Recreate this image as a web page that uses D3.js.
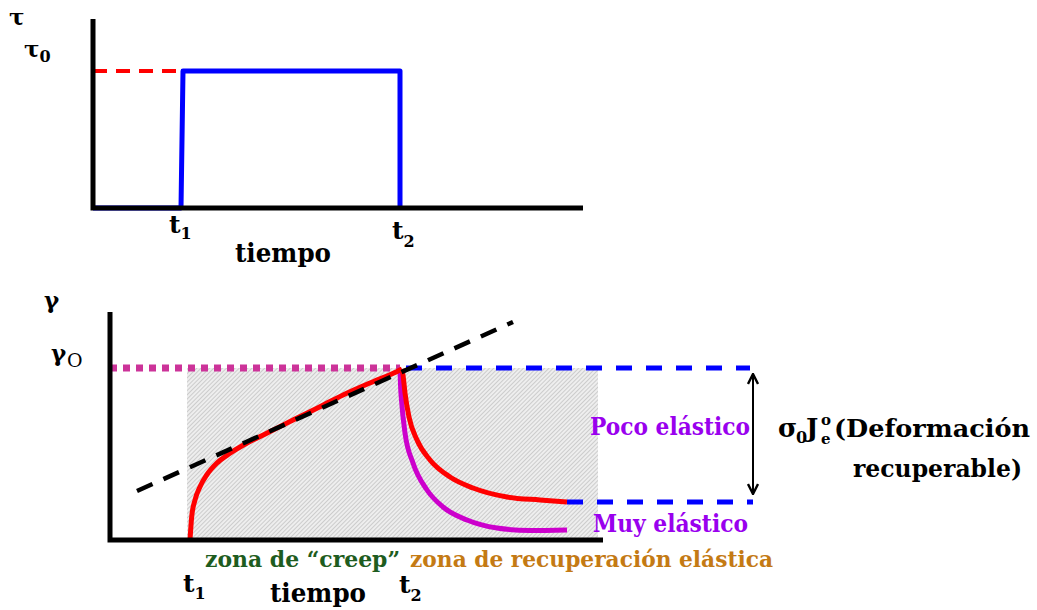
<!DOCTYPE html>
<html><head><meta charset="utf-8">
<script src="https://cdn.jsdelivr.net/npm/d3@7"></script>
<style>
html,body{margin:0;padding:0;background:#fff;}
svg text{font-family:"DejaVu Serif",serif;font-weight:bold;}
</style></head>
<body><svg id="c" width="1037" height="610"></svg>
<script>
// ---- Top chart data (stress τ vs time) ----
const stepTime   = [0, 8.8, 9.0, 30.7, 30.7];
const stepStress = [0, 0, 13.7, 13.7, 0];
const tau0 = 13.7;
const topT1 = 8.9, topT2 = 30.7;

// ---- Bottom chart data (strain γ vs time) ----
const creepTime   = [8.0, 8.17, 8.5, 9.0, 9.67, 10.67, 12.0, 13.67, 15.67, 18.3, 21.0, 23.67, 26.3, 28.67, 29.2];
const creepStrain = [0, 2.33, 4.0, 5.33, 6.5, 7.67, 8.67, 9.67, 10.67, 12.0, 13.33, 14.67, 15.83, 16.83, 17.1];
const pocoTime    = [29.2, 29.3, 29.5, 29.9, 30.7, 32.0, 34.0, 36.3, 39.7, 43.0, 45.7];
const pocoStrain  = [17.1, 16.5, 14.7, 12.3, 10.0, 8.0, 6.3, 5.2, 4.3, 4.0, 3.8];
const muyTime     = [29.0, 29.05, 29.15, 29.5, 30.3, 31.7, 33.3, 35.7, 38.7, 42.0, 45.7];
const muyStrain   = [17.1, 15.5, 14.0, 10.7, 7.7, 5.0, 3.3, 2.0, 1.2, 0.95, 1.0];
const tangentTime   = [2.7, 40.3];
const tangentStrain = [4.9, 21.8];
const gamma0 = 17.2;
const zoneStart = 7.7, zoneEnd = 48.8;
const recovStrain = 3.8;
const refEnd = 64.0, arrowX = 64.3;
const botT1 = 8.0, botT2 = 29.2;

const svg = d3.select("#c");
const defs = svg.append("defs");
const pat = defs.append("pattern").attr("id","hatch").attr("patternUnits","userSpaceOnUse")
  .attr("width",3).attr("height",3).attr("patternTransform","rotate(45)");
pat.append("rect").attr("width",3).attr("height",3).attr("fill","#eeeeee");
pat.append("line").attr("x1",0).attr("y1",0).attr("x2",0).attr("y2",3).attr("stroke","#b0b0b0").attr("stroke-width",1.1);

defs.append("marker").attr("id","arr").attr("viewBox","0 0 12 12")
  .attr("refX",11).attr("refY",6).attr("markerWidth",12).attr("markerHeight",12)
  .attr("markerUnits","userSpaceOnUse").attr("orient","auto-start-reverse")
  .append("path").attr("d","M1,1 L11,6 L1,11").attr("fill","none").attr("stroke","#000").attr("stroke-width",2.4);

// ---------- TOP ----------
const xT = d3.scaleLinear().domain([0,49]).range([93,583]);
const yT = d3.scaleLinear().domain([0,18.9]).range([208,19]);

svg.append("line").attr("x1",xT(0)).attr("x2",xT(topT1)).attr("y1",yT(tau0)).attr("y2",yT(tau0))
  .attr("stroke","#ff0000").attr("stroke-width",4).attr("stroke-dasharray","14,9");
const lineTop = d3.line().x((d,i)=>xT(stepTime[i])).y((d,i)=>yT(stepStress[i]));
svg.append("path").attr("d",lineTop(stepTime)).attr("fill","none").attr("stroke","#0000ff")
  .attr("stroke-width",5).attr("stroke-linejoin","round");
svg.append("path").attr("d",`M${xT(0)},${yT(18.9)} L${xT(0)},${yT(0)} L${xT(49)},${yT(0)}`)
  .attr("fill","none").attr("stroke","#000").attr("stroke-width",5).attr("stroke-linejoin","miter");

// top labels
svg.append("text").attr("x",9).attr("y",25).attr("font-size",23).text("τ");
const tt0 = svg.append("text").attr("x",24).attr("y",57).attr("font-size",23);
tt0.append("tspan").text("τ"); tt0.append("tspan").attr("dy",5).attr("font-size",16).text("0");
const tl1 = svg.append("text").attr("x",xT(topT1)-13).attr("y",233).attr("font-size",25);
tl1.append("tspan").text("t"); tl1.append("tspan").attr("dy",6).attr("font-size",16).text("1");
const tl2 = svg.append("text").attr("x",xT(topT2)-8).attr("y",239).attr("font-size",25);
tl2.append("tspan").text("t"); tl2.append("tspan").attr("dy",8).attr("font-size",16).text("2");
svg.append("text").attr("x",235).attr("y",262).attr("font-size",26).attr("textLength",96)
  .attr("lengthAdjust","spacingAndGlyphs").text("tiempo");

// ---------- BOTTOM ----------
const xB = d3.scaleLinear().domain([0,49.3]).range([110,603]);
const yB = d3.scaleLinear().domain([0,22.8]).range([540,312]);

svg.append("rect").attr("x",xB(zoneStart)).attr("y",yB(gamma0)).attr("width",xB(zoneEnd)-xB(zoneStart))
  .attr("height",yB(0)-yB(gamma0)).attr("fill","url(#hatch)");

svg.append("line").attr("x1",xB(0)).attr("x2",xB(29.0)).attr("y1",yB(gamma0)).attr("y2",yB(gamma0))
  .attr("stroke","#cc3399").attr("stroke-width",7).attr("stroke-dasharray","7,6");
svg.append("line").attr("x1",xB(29.6)).attr("x2",xB(refEnd)).attr("y1",yB(gamma0)).attr("y2",yB(gamma0))
  .attr("stroke","#0000ff").attr("stroke-width",5).attr("stroke-dasharray","16,14");
svg.append("line").attr("x1",xB(45.7)).attr("x2",xB(arrowX)).attr("y1",yB(recovStrain)).attr("y2",yB(recovStrain))
  .attr("stroke","#0000ff").attr("stroke-width",5).attr("stroke-dasharray","16,14");

const curve = d3.curveMonotoneX;
const mkLine = (T,G) => d3.line().curve(curve).x((d,i)=>xB(T[i])).y((d,i)=>yB(G[i]))(T);
svg.append("path").attr("d",mkLine(muyTime,muyStrain)).attr("fill","none").attr("stroke","#cc00cc").attr("stroke-width",5);
svg.append("path").attr("d",mkLine(pocoTime,pocoStrain)).attr("fill","none").attr("stroke","#ff0000").attr("stroke-width",5);
svg.append("path").attr("d",mkLine(creepTime,creepStrain)).attr("fill","none").attr("stroke","#ff0000").attr("stroke-width",5);
svg.append("path").attr("d",d3.line().x((d,i)=>xB(tangentTime[i])).y((d,i)=>yB(tangentStrain[i]))(tangentTime))
  .attr("fill","none").attr("stroke","#000").attr("stroke-width",4.5).attr("stroke-dasharray","17,12");

svg.append("path").attr("d",`M${xB(0)},${yB(22.8)} L${xB(0)},${yB(0)} L${xB(49.3)},${yB(0)}`)
  .attr("fill","none").attr("stroke","#000").attr("stroke-width",5).attr("stroke-linejoin","miter");

// double arrow
svg.append("line").attr("x1",xB(arrowX)).attr("x2",xB(arrowX)).attr("y1",yB(16.6)).attr("y2",yB(4.6))
  .attr("stroke","#000").attr("stroke-width",2).attr("marker-start","url(#arr)").attr("marker-end","url(#arr)");

// bottom labels
svg.append("text").attr("x",44).attr("y",308).attr("font-size",23).text("γ");
const g0 = svg.append("text").attr("x",51).attr("y",361).attr("font-size",23);
g0.append("tspan").text("γ"); g0.append("tspan").attr("x",67).attr("dy",6).attr("font-size",19).attr("font-weight","normal").text("O");

svg.append("text").attr("x",590).attr("y",435).attr("font-size",24).attr("fill","#9900ee")
  .attr("textLength",160).attr("lengthAdjust","spacingAndGlyphs").text("Poco elástico");
svg.append("text").attr("x",593).attr("y",532).attr("font-size",24).attr("fill","#9900ee")
  .attr("textLength",155).attr("lengthAdjust","spacingAndGlyphs").text("Muy elástico");

const sj = svg.append("text").attr("y",437).attr("font-size",26);
sj.append("tspan").attr("x",778).text("σ");
sj.append("tspan").attr("x",796).attr("dy",6).attr("font-size",16).text("0");
sj.append("tspan").attr("x",806).attr("dy",-6).text("J");
sj.append("tspan").attr("x",821).attr("dy",-12).attr("font-size",15).text("o");
sj.append("tspan").attr("x",821).attr("dy",19).attr("font-size",15).text("e");
svg.append("text").attr("x",834).attr("y",437).attr("font-size",24).attr("textLength",196)
  .attr("lengthAdjust","spacingAndGlyphs").text("(Deformación");
svg.append("text").attr("x",853).attr("y",477).attr("font-size",24).attr("textLength",169)
  .attr("lengthAdjust","spacingAndGlyphs").text("recuperable)");

svg.append("text").attr("x",205).attr("y",567).attr("font-size",23).attr("fill","#1e5c20")
  .attr("textLength",195).attr("lengthAdjust","spacingAndGlyphs").text("zona de “creep”");
svg.append("text").attr("x",410).attr("y",567).attr("font-size",23).attr("fill","#c47a14")
  .attr("textLength",363).attr("lengthAdjust","spacingAndGlyphs").text("zona de recuperación elástica");

const b1 = svg.append("text").attr("x",xB(botT1)-7).attr("y",592).attr("font-size",25);
b1.append("tspan").text("t"); b1.append("tspan").attr("dy",7).attr("font-size",16).text("1");
const b2 = svg.append("text").attr("x",xB(botT2)-3).attr("y",593).attr("font-size",25);
b2.append("tspan").text("t"); b2.append("tspan").attr("dy",8).attr("font-size",16).text("2");
svg.append("text").attr("x",270).attr("y",602).attr("font-size",26).attr("textLength",96)
  .attr("lengthAdjust","spacingAndGlyphs").text("tiempo");
</script></body></html>
